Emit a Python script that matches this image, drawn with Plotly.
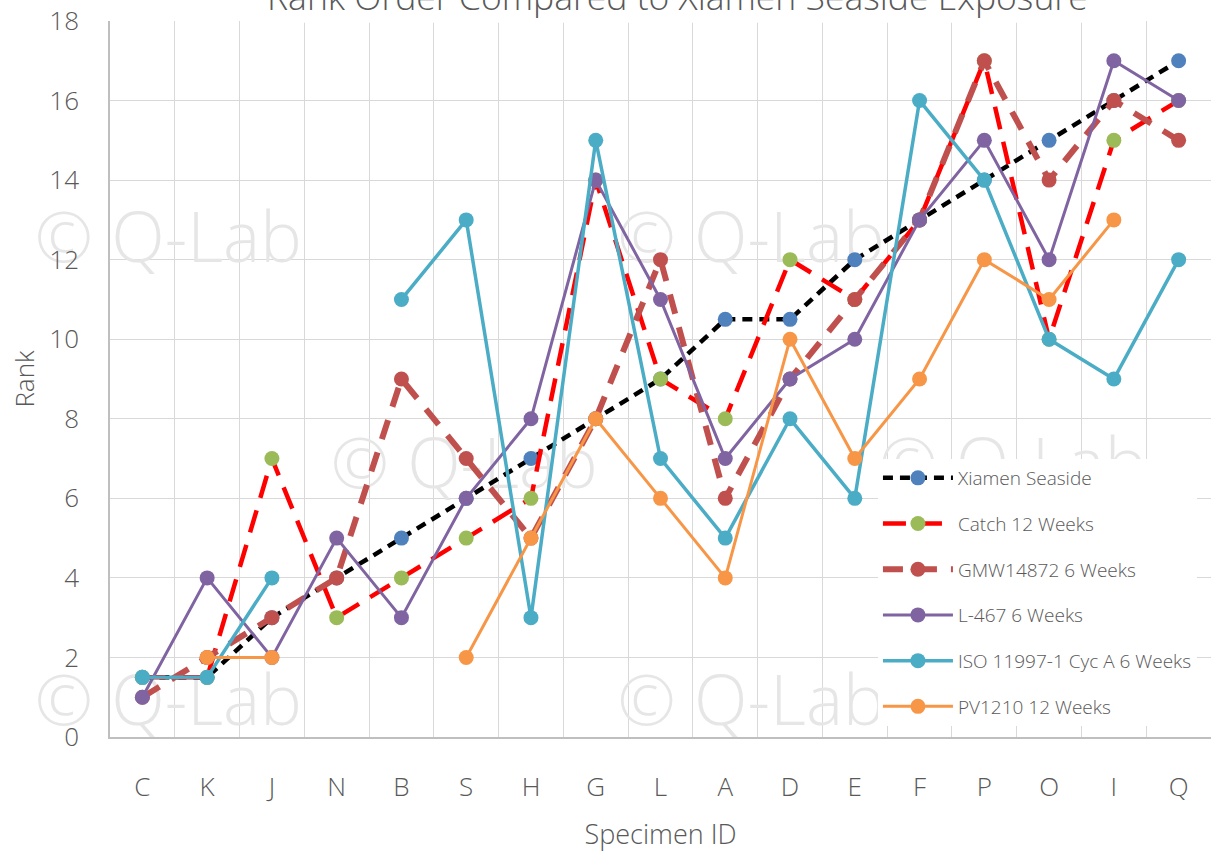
import plotly.graph_objects as go

categories = ["C", "K", "J", "N", "B", "S", "H", "G", "L", "A", "D", "E", "F", "P", "O", "I", "Q"]

xiamen_seaside = [1.5, 1.5, 3, 4, 5, 6, 7, 8, 9, 10.5, 10.5, 12, 13, 14, 15, 16, 17]
catch_12wk = [1.5, 1.5, 7, 3, 4, 5, 6, 14, 9, 8, 12, 11, 13, 17, 10, 15, 16]
gmw14872_6wk = [1, 2, 3, 4, 9, 7, 5, 8, 12, 6, 9, 11, 13, 17, 14, 16, 15]
l467_6wk = [1, 4, 2, 5, 3, 6, 8, 14, 11, 7, 9, 10, 13, 15, 12, 17, 16]
iso11997_6wk = [1.5, 1.5, 4, None, 11, 13, 3, 15, 7, 5, 8, 6, 16, 14, 10, 9, 12]
pv1210_12wk = [None, 2, 2, None, None, 2, 5, 8, 6, 4, 10, 7, 9, 12, 11, 13, None]

# watermark grid (axis units)
wm_x = [-3.45, 5.02, 13.49, 0.4, 9.4, 17.85, -3.49, 4.97, 13.44, 0.4, 9.4, 17.85]
wm_y = [18.08, 18.08, 18.08, 12.39, 12.39, 12.39, 6.71, 6.71, 6.71, 0.73, 0.73, 0.73]

FONT = "Open Sans"
GREY = "#595959"
GRID = "#D9D9D9"

x = list(range(len(categories)))

fig = go.Figure()

fig.add_trace(go.Scatter(
    x=wm_x, y=wm_y, mode="text", text=["\u00a9 Q-Lab"] * len(wm_x),
    textfont=dict(family=FONT, size=70, color="#E6E6E6", weight=300),
    cliponaxis=False, showlegend=False, hoverinfo="skip",
))

series = [
    ("Xiamen Seaside", xiamen_seaside, "black", 4.5, "10px,7px", "#4F81BD"),
    ("Catch 12 Weeks", catch_12wk, "#FF0000", 4.5, "23px,13px", "#9BBB59"),
    ("GMW14872 6 Weeks", gmw14872_6wk, "#C0504D", 6, "20px,14px", "#C0504D"),
    ("L-467 6 Weeks", l467_6wk, "#8064A2", 3, "solid", "#8064A2"),
    ("ISO 11997-1 Cyc A 6 Weeks", iso11997_6wk, "#4BACC6", 3.5, "solid", "#4BACC6"),
    ("PV1210 12 Weeks", pv1210_12wk, "#F79646", 3, "solid", "#F79646"),
]

for i, (name, vals, lc, lw, dash, mc) in enumerate(series):
    fig.add_trace(go.Scatter(
        x=x, y=vals, name=name, mode="lines+markers",
        line=dict(color=lc, width=lw, dash=dash),
        marker=dict(color=mc, size=15),
        legendgroup=f"g{i}",
    ))

# white box behind the (clipped) title
fig.add_shape(type="rect", xref="paper", yref="paper",
              x0=0.1353, x1=0.8937, y0=0.9975, y1=1.05,
              fillcolor="white", line=dict(width=0), layer="above")

fig.add_annotation(
    text="Rank Order Compared to Xiamen Seaside Exposure",
    xref="paper", yref="paper", x=0.515, y=0.9986,
    xanchor="center", yanchor="bottom", showarrow=False,
    font=dict(family=FONT, size=35.5, color=GREY, weight=300),
)

fig.update_layout(
    width=1211, height=852,
    margin=dict(l=110, r=0, t=21, b=115, autoexpand=False),
    paper_bgcolor="white", plot_bgcolor="white",
    font=dict(family=FONT, color=GREY, weight=300),
    showlegend=True,
    legend=dict(
        x=0.6975, xanchor="left", y=0.3883, yanchor="top",
        bgcolor="white", font=dict(size=19, color=GREY, family=FONT, weight=300),
        itemwidth=70, tracegroupgap=18, traceorder="grouped",
    ),
)

fig.update_xaxes(
    range=[-0.5, len(categories) - 0.5], automargin=False,
    tickmode="array", tickvals=x, ticktext=categories,
    showgrid=False, zeroline=False,
    minor=dict(tickvals=[v - 0.5 for v in range(len(categories) + 1)],
               showgrid=True, gridcolor=GRID, gridwidth=1.3),
    showline=True, linecolor="#BFBFBF", linewidth=1.5,
    ticks="", ticklabelstandoff=26,
    tickfont=dict(size=26, color=GREY),
    title=dict(text="Specimen ID", font=dict(size=27, color=GREY), standoff=25),
)

fig.update_yaxes(
    range=[0, 18], dtick=2, automargin=False,
    showgrid=True, gridcolor=GRID, gridwidth=1.3, zeroline=False,
    showline=True, linecolor="#BFBFBF", linewidth=1.5,
    ticks="", ticklabelstandoff=24,
    tickfont=dict(size=26, color=GREY),
    title=dict(text="Rank", font=dict(size=26, color=GREY), standoff=7),
)

fig.write_html("out.html", config={"displayModeBar": False},
               post_script="document.body.style.margin = '0';")
